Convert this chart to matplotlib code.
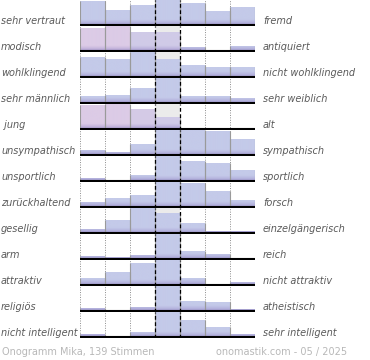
import numpy as np
import matplotlib
matplotlib.use('Agg')
import matplotlib.pyplot as plt
from matplotlib.colors import to_rgb

left_labels = ["sehr vertraut", "modisch", "wohlklingend", "sehr männlich", " jung",
               "unsympathisch", "unsportlich", "zurückhaltend", "gesellig", "arm",
               "attraktiv", "religiös", "nicht intelligent"]
right_labels = ["fremd", "antiquiert", "nicht wohlklingend", "sehr weiblich", "alt",
                "sympathisch", "sportlich", "forsch", "einzelgängerisch", "reich",
                "nicht attraktiv", "atheistisch", "sehr intelligent"]

v_vertraut = [96, 59, 79, 100, 88, 58, 73]
v_modisch = [92, 100, 77, 77, 16, 0, 20]
v_wohlklingend = [79, 71, 100, 71, 49, 41, 41]
v_maennlich = [28, 33, 60, 100, 29, 29, 20]
v_jung = [97, 100, 79, 49, 5, 0, 0]
v_sympathisch = [22, 12, 45, 100, 99, 96, 64]
v_sportlich = [11, 5, 23, 100, 79, 71, 45]
v_forsch = [21, 37, 48, 100, 96, 65, 29]
v_gesellig = [17, 51, 100, 79, 40, 9, 9]
v_reich = [12, 7, 17, 100, 33, 19, 0]
v_attraktiv = [29, 51, 87, 100, 29, 0, 12]
v_religioes = [11, 0, 17, 100, 41, 37, 10]
v_intelligent = [13, 0, 20, 100, 67, 40, 11]
values = [v_vertraut, v_modisch, v_wohlklingend, v_maennlich, v_jung, v_sympathisch,
          v_sportlich, v_forsch, v_gesellig, v_reich, v_attraktiv, v_religioes, v_intelligent]

# pink tint per bar (0 = blue, 1 = pink)
tints = [[0]*7 for _ in range(13)]
tints[1] = [1, 1, 0.5, 0.5, 0, 0, 0]
tints[4] = [1, 1, 0.7, 0.5, 0.2, 0, 0]

W, H = 370, 360
fig = plt.figure(figsize=(W/100, H/100), dpi=100)
fig.patch.set_facecolor('white')

blue = np.array(to_rgb('#c4cae9'))
pink = np.array(to_rgb('#dccbe6'))
dark = np.array(to_rgb('#9c8fcc'))

x0_px, x1_px = 80, 255
pitch = 26.0
for i in range(13):
    yb = 25 + pitch * i
    ax = fig.add_axes([x0_px / W, 1 - (yb + 1) / H, (x1_px - x0_px) / W, 26 / H])
    ax.set_xlim(0, 7)
    ax.set_ylim(-4, 100)
    ax.set_axis_off()
    ax.set_autoscale_on(False)
    # center column background
    ax.axvspan(3, 4, color='#ebebeb', zorder=0, lw=0)
    for x in [0, 1, 2, 5, 6, 7]:
        ax.axvline(x, color='#8c8c8c', ls=(0, (1, 1.5)), lw=0.7, zorder=1)
    vals = values[i]
    bars = ax.bar(np.arange(7) + 0.5, vals, width=1.0, color='none', lw=0, zorder=2)
    yy = np.linspace(100, 0, 300)
    for j, b in enumerate(bars):
        h = vals[j]
        if h <= 0:
            continue
        main = blue * (1 - tints[i][j]) + pink * tints[i][j]
        t = np.clip(yy / 22.0, 0, 1) ** 0.6
        grad = dark[None, :] * (1 - t[:, None]) + main[None, :] * t[:, None]
        img = ax.imshow(grad[:, None, :], extent=[j, j + 1, 0, 100], aspect='auto',
                        zorder=2, interpolation='bilinear')
        img.set_clip_path(b)
        ax.vlines([j, j + 1], 0, h, color='#9a9a9a', lw=0.8, zorder=3)
    ax.set_xlim(0, 7)
    ax.set_ylim(-4, 100)
    for x in [3, 4]:
        ax.axvline(x, color='black', ls=(0, (3, 2)), lw=0.9, zorder=4)
    ax.axhline(0, color='black', lw=1.5, zorder=5)

    ty = 1 - (yb - 1.5) / H
    fig.text(1 / W, ty, left_labels[i], ha='left', va='baseline', style='italic',
             color='#5a5a5a', fontsize=7)
    fig.text(263 / W, ty, right_labels[i], ha='left', va='baseline', style='italic',
             color='#5a5a5a', fontsize=7)

fig.text(2 / W, 1 - 355 / H, "Onogramm Mika, 139 Stimmen", ha='left', va='baseline',
         color='#b8b8b8', fontsize=7)
fig.text(347 / W, 1 - 355 / H, "onomastik.com - 05 / 2025", ha='right', va='baseline',
         color='#b8b8b8', fontsize=7)

fig.savefig('out.png', dpi=100, facecolor='white')
